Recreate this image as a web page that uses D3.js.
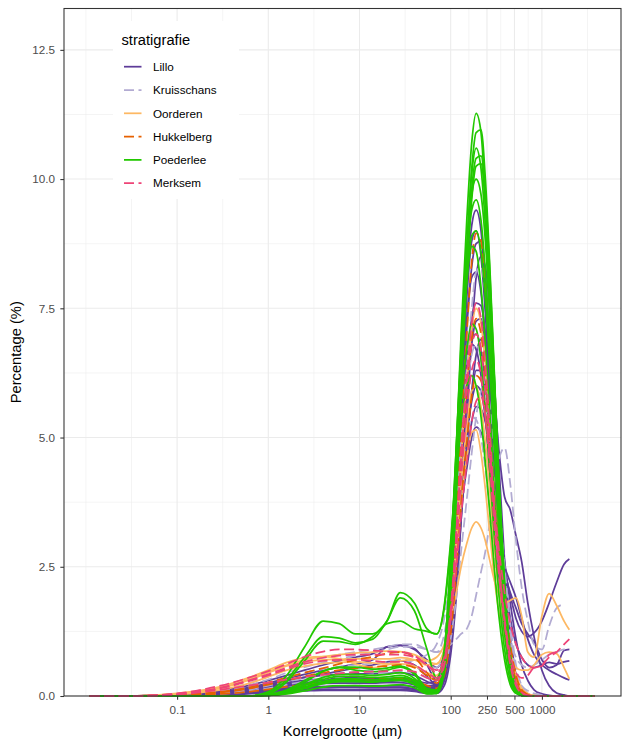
<!DOCTYPE html>
<html><head><meta charset="utf-8">
<script src="https://cdn.jsdelivr.net/npm/d3@7"></script>
<style>body{margin:0;background:#fff}</style>
</head><body><svg id="c" width="630" height="747"></svg>
<script>
// grain size classes (µm)
const sizes = [0.011,0.03,0.1,0.3,0.6,1,1.6,2.5,4,6,
  9,14,20,28,40,55,70,85,100,115,
  130,150,170,190,215,240,270,300,340,390,
  450,520,600,700,820,1000,1200,1450,1750,2000,
  3800];

const lillo = [
 [0,0,0.01,0.04,0.08,0.12,0.15,0.17,0.18,0.19, 0.2,0.2,0.2,0.2,0.18,0.12,0.15,0.6,1.9,3.9, 6.0,8.0,9.1,9.4,9.0,7.9,6.4,4.9,3.2,1.7, 0.7,0.2,0.05,0.01,0,0,0,0,0,0, 0],
 [0,0,0.01,0.05,0.1,0.15,0.19,0.22,0.24,0.25, 0.25,0.25,0.26,0.26,0.22,0.14,0.14,0.45,1.5,3.2, 5.1,7.1,8.3,8.75,8.8,8.1,6.8,5.4,3.7,2.1, 0.9,0.3,0.08,0.02,0,0,0,0,0,0, 0],
 [0,0,0.02,0.06,0.12,0.18,0.24,0.28,0.31,0.32, 0.32,0.31,0.31,0.32,0.27,0.17,0.18,0.6,1.9,3.7, 5.6,7.3,8.1,8.2,7.8,6.9,5.7,4.4,3.0,1.7, 0.75,0.25,0.07,0.02,0.01,0,0,0,0,0, 0],
 [0,0,0.02,0.07,0.14,0.2,0.26,0.3,0.33,0.35, 0.35,0.34,0.34,0.35,0.3,0.2,0.2,0.55,1.6,3.2, 4.8,6.4,7.3,7.6,7.55,7.0,6.0,4.9,3.6,2.4, 1.5,1.0,0.75,0.6,0.55,0.6,0.65,0.62,0.66,0.68, null],
 [0,0,0.02,0.08,0.16,0.25,0.34,0.42,0.5,0.56, 0.62,0.7,0.95,0.98,0.92,0.6,0.3,0.55,1.7,3.3, 4.9,6.2,6.9,7.0,6.7,6.0,5.0,3.9,2.7,1.6, 0.75,0.25,0.06,0.01,0,0,0,0,0,0, 0],
 [0,0,0.01,0.04,0.08,0.12,0.15,0.17,0.18,0.18, 0.18,0.17,0.17,0.17,0.14,0.08,0.08,0.3,1.0,2.1, 3.4,4.8,5.9,6.6,6.9,6.8,6.5,5.8,4.7,3.85, 3.6,3.1,2.6,1.8,1.15,0.5,0.2,0.06,0.02,0, 0],
 [0,0,0.02,0.06,0.12,0.18,0.23,0.27,0.3,0.31, 0.31,0.3,0.3,0.3,0.26,0.18,0.16,0.45,1.3,2.5, 3.6,4.6,5.3,5.6,5.55,5.3,4.8,4.1,3.2,2.45, 1.95,1.5,1.25,1.15,1.22,1.45,1.8,2.2,2.55,2.65, null],
 [0,0,0.02,0.07,0.14,0.22,0.3,0.36,0.4,0.42, 0.43,0.43,0.44,0.45,0.4,0.28,0.22,0.5,1.4,2.7, 3.9,5.0,5.7,6.0,5.9,5.4,4.6,3.8,3.0,2.4, 2.0,1.7,1.4,1.2,1.05,0.7,0.55,0.6,0.88,0.9, null],
 [0,0,0.03,0.1,0.2,0.3,0.4,0.5,0.6,0.68, 0.75,0.82,0.95,0.98,0.9,0.7,0.55,0.8,1.6,2.6, 3.6,4.4,5.0,5.2,5.1,4.8,4.2,3.5,2.9,2.5, 2.2,1.9,1.5,1.1,0.8,0.6,0.5,0.42,0.35,0.31, null],
 [0,0,0.01,0.03,0.06,0.1,0.13,0.15,0.16,0.17, 0.17,0.16,0.16,0.16,0.13,0.07,0.05,0.2,0.8,1.9, 3.4,5.3,7.0,8.1,8.5,8.3,7.4,6.1,4.4,2.6, 1.2,0.4,0.1,0.02,0,0,0,0,0,0, 0],
 [0,0,0.02,0.05,0.1,0.16,0.21,0.25,0.27,0.28, 0.28,0.27,0.28,0.3,0.3,0.25,0.3,0.9,2.3,4.0, 5.5,6.5,6.8,6.7,6.2,5.4,4.3,3.2,2.1,1.2, 0.55,0.2,0.05,0.01,0,0,0,0,0,0, 0],
 [0,0,0.01,0.03,0.06,0.09,0.11,0.12,0.13,0.13, 0.13,0.13,0.13,0.13,0.11,0.07,0.06,0.3,1.1,2.3, 3.6,4.9,5.8,6.3,6.3,5.9,5.2,4.4,3.5,2.6, 1.8,1.1,0.6,0.3,0.12,0.04,0.01,0,0,0, 0],
 [0,0,0,0.02,0.04,0.07,0.09,0.1,0.11,0.11, 0.11,0.11,0.11,0.11,0.09,0.05,0.06,0.4,1.6,3.5, 5.7,7.7,8.8,9.0,8.5,7.4,5.9,4.4,2.9,1.5, 0.6,0.15,0.03,0,0,0,0,0,0,0, 0],
 [0,0,0.02,0.07,0.14,0.22,0.3,0.36,0.42,0.48, 0.54,0.6,0.66,0.68,0.6,0.38,0.22,0.4,1.3,2.7, 4.2,5.7,6.8,7.25,7.3,6.8,5.9,4.8,3.5,2.2, 1.1,0.4,0.1,0.02,0,0,0,0,0,0, 0]
];

const kruisschans = [
 [0,0,0.03,0.1,0.2,0.32,0.45,0.56,0.65,0.72, 0.78,0.84,0.9,0.95,0.95,0.9,0.85,0.9,1.0,1.1, 1.2,1.3,1.55,1.95,2.4,2.8,3.4,4.1,4.6,4.8, 4.1,3.0,2.1,1.45,1.0,0.9,1.35,1.7,1.78,null, null],
 [0,0,0.03,0.12,0.24,0.38,0.52,0.64,0.74,0.8, 0.85,0.9,0.95,1.0,1.0,0.9,0.85,1.2,2.1,3.2, 4.2,5.0,5.4,5.35,5.0,4.4,3.6,2.8,2.0,1.3, 0.75,0.4,0.2,0.1,0.05,0.02,0,0,0,0, 0],
 [0,0,0.02,0.08,0.16,0.26,0.36,0.45,0.52,0.57, 0.6,0.63,0.66,0.7,0.7,0.6,0.55,0.9,1.9,3.2, 4.6,5.9,6.6,6.8,6.5,5.8,4.8,3.7,2.6,1.7, 1.1,0.75,0.6,0.55,0.6,0.7,0.8,0.85,0.9,0.9, null],
 [0,0,0.02,0.06,0.12,0.2,0.28,0.34,0.4,0.44, 0.47,0.5,0.55,0.62,0.7,0.8,1.0,1.5,2.4,3.6, 4.9,6.3,7.5,8.2,8.3,7.8,6.7,5.4,3.9,2.4, 1.2,0.45,0.12,0.03,0,0,0,0,0,0, 0],
 [0,0,0.01,0.04,0.09,0.15,0.22,0.28,0.33,0.37, 0.4,0.42,0.45,0.48,0.45,0.35,0.3,0.5,1.1,1.9, 2.8,3.8,4.7,5.4,5.9,6.0,5.6,4.8,3.7,2.5, 1.4,0.6,0.2,0.05,0.01,0,0,0,0,0, 0]
];

const oorderen = [
 [0,0,0.05,0.18,0.35,0.5,0.65,0.74,0.76,0.72, 0.62,0.55,0.6,0.68,0.7,0.68,0.75,1.0,1.5,2.0, 2.5,2.95,3.25,3.37,3.25,3.0,2.6,2.25,1.95,1.8, 1.85,1.9,1.55,0.85,0.75,1.55,1.98,1.75,1.45,1.28, null],
 [0,0,0.04,0.15,0.3,0.45,0.58,0.66,0.7,0.71, 0.72,0.72,0.72,0.74,0.7,0.6,0.62,0.9,1.6,2.6, 3.7,4.6,5.1,5.15,4.7,4.0,3.1,2.3,1.6,1.1, 0.75,0.55,0.5,0.5,0.6,0.8,0.85,0.82,0.55,0.33, null],
 [0,0,0.03,0.12,0.24,0.37,0.5,0.58,0.63,0.65, 0.66,0.64,0.62,0.62,0.58,0.45,0.4,0.7,1.6,3.0, 4.6,6.1,7.1,7.5,7.2,6.4,5.2,4.0,2.8,1.7, 0.9,0.4,0.15,0.05,0.01,0,0,0,0,0, 0],
 [0,0,0.04,0.16,0.32,0.47,0.6,0.7,0.76,0.8, 0.83,0.85,0.87,0.86,0.8,0.68,0.62,0.9,1.7,2.9, 4.1,5.2,5.9,6.0,5.6,4.9,3.9,2.9,2.0,1.3, 0.7,0.3,0.1,0.02,0,0,0,0,0,0, 0]
];

const hukkelberg = [
 [0,0,0.02,0.08,0.16,0.26,0.36,0.45,0.54,0.62, 0.7,0.76,0.82,0.85,0.75,0.45,0.25,0.5,1.6,3.3, 5.2,7.0,8.4,8.95,8.8,7.9,6.5,5.0,3.4,1.9, 0.8,0.25,0.06,0.01,0,0,0,0,0,0, 0],
 [0,0,0.02,0.07,0.14,0.22,0.3,0.38,0.45,0.5, 0.54,0.56,0.58,0.6,0.55,0.4,0.3,0.6,1.6,3.0, 4.5,5.9,6.9,7.3,7.0,6.2,5.1,3.9,2.7,1.6, 0.8,0.3,0.08,0.02,0,0,0,0,0,0, 0],
 [0,0,0.01,0.04,0.08,0.13,0.18,0.22,0.26,0.29, 0.31,0.32,0.33,0.34,0.3,0.2,0.15,0.4,1.2,2.4, 3.7,4.9,5.8,6.2,6.1,5.6,4.8,3.9,2.9,1.9, 1.0,0.4,0.12,0.03,0,0,0,0,0,0, 0]
];

const poederlee = [
 [0,0,0,0,0,0.01,0.06,0.16,0.26,0.3, 0.3,0.28,0.3,0.32,0.24,0.06,0.08,0.7,2.4,4.7, 7.0,9.2,10.7,11.27,10.9,9.6,7.7,5.8,3.6,1.7, 0.55,0.1,0.01,0,0,0,0,0,0,0, 0],
 [0,0,0,0,0,0.01,0.05,0.14,0.24,0.28, 0.28,0.27,0.29,0.3,0.22,0.05,0.06,0.55,2.0,4.1, 6.3,8.6,10.2,10.9,10.95,10.0,8.2,6.3,4.0,2.0, 0.7,0.15,0.02,0,0,0,0,0,0,0, 0],
 [0,0,0,0,0,0.02,0.08,0.2,0.32,0.38, 0.38,0.36,0.37,0.4,0.3,0.08,0.07,0.6,2.3,4.5, 6.6,8.7,10.1,10.6,10.2,9.1,7.4,5.6,3.6,1.8, 0.6,0.12,0.01,0,0,0,0,0,0,0, 0],
 [0,0,0,0,0,0.01,0.06,0.17,0.28,0.33, 0.33,0.31,0.33,0.36,0.28,0.07,0.05,0.45,1.8,3.8, 5.9,8.1,9.6,10.25,10.3,9.5,7.9,6.2,4.1,2.2, 0.8,0.2,0.03,0,0,0,0,0,0,0, 0],
 [0,0,0,0,0,0.02,0.09,0.22,0.36,0.42, 0.42,0.4,0.42,0.45,0.34,0.1,0.08,0.65,2.4,4.6, 6.6,8.5,9.7,10.0,9.7,8.8,7.3,5.7,3.8,2.0, 0.75,0.15,0.02,0,0,0,0,0,0,0, 0],
 [0,0,0,0,0,0.02,0.1,0.26,0.48,0.55, 0.5,0.47,0.5,0.56,0.42,0.12,0.1,0.7,2.6,4.8, 6.8,8.5,9.4,9.6,9.2,8.2,6.7,5.1,3.3,1.7, 0.6,0.12,0.01,0,0,0,0,0,0,0, 0],
 [0,0,0,0,0,0.03,0.12,0.3,0.48,0.56, 0.56,0.52,0.54,0.58,0.45,0.15,0.12,0.8,2.7,4.8, 6.6,8.1,8.9,9.0,8.6,7.7,6.3,4.8,3.1,1.6, 0.55,0.1,0.01,0,0,0,0,0,0,0, 0],
 [0,0,0,0,0,0.01,0.04,0.1,0.17,0.2, 0.2,0.19,0.2,0.22,0.16,0.04,0.05,0.5,2.0,4.2, 6.0,8.3,9.8,10.4,10.45,9.7,8.1,6.2,4.0,2.1, 0.65,0.12,0.01,0,0,0,0,0,0,0, 0],
 [0,0,0,0,0,0.08,0.4,0.95,1.45,1.4, 1.2,1.2,1.45,2.0,1.8,1.3,1.2,1.75,3.0,4.4, 5.7,6.7,7.2,7.1,6.5,5.5,4.3,3.1,1.9,0.9, 0.3,0.06,0.01,0,0,0,0,0,0,0, 0],
 [0,0,0,0,0,0.05,0.32,0.75,1.15,1.12, 1.03,1.1,1.45,1.9,1.65,0.9,0.35,0.9,2.6,4.6, 6.5,8.0,8.7,8.6,7.9,6.8,5.4,4.0,2.5,1.2, 0.4,0.08,0.01,0,0,0,0,0,0,0, 0],
 [0,0,0,0,0,0.04,0.28,0.68,1.06,1.05, 1.0,1.15,1.4,1.45,1.3,1.25,1.2,1.7,2.9,4.2, 5.3,6.0,6.2,6.0,5.4,4.5,3.5,2.5,1.5,0.7, 0.22,0.05,0.01,0,0,0,0,0,0,0, 0]
];

const merksem = [
 [0,0,0.05,0.2,0.35,0.48,0.62,0.76,0.86,0.9, 0.9,0.88,0.86,0.85,0.78,0.6,0.45,0.7,1.7,3.1, 4.7,6.2,7.2,7.6,7.3,6.4,5.1,3.8,2.5,1.4, 0.6,0.2,0.05,0.01,0,0,0,0,0,0, 0],
 [0,0,0.04,0.16,0.3,0.42,0.55,0.66,0.74,0.78, 0.8,0.8,0.8,0.8,0.75,0.6,0.5,0.75,1.5,2.5, 3.5,4.5,5.3,5.7,5.8,5.4,4.6,3.7,2.8,2.0, 1.4,1.0,0.75,0.6,0.55,0.6,0.75,0.85,1.0,1.1, null],
 [0,0,0.03,0.12,0.2,0.26,0.32,0.37,0.41,0.44, 0.46,0.47,0.48,0.5,0.47,0.35,0.3,0.6,1.6,3.1, 4.6,6.0,6.8,7.0,6.7,5.9,4.8,3.6,2.5,1.5, 0.8,0.45,0.35,0.4,0.55,0.58,0.8,0.85,null,null, null],
 [0,0,0.04,0.15,0.28,0.4,0.52,0.62,0.68,0.7, 0.7,0.68,0.66,0.66,0.6,0.45,0.35,0.6,1.5,2.8, 4.2,5.5,6.3,6.5,6.2,5.4,4.4,3.3,2.3,1.4, 0.7,0.25,0.07,0.01,0,0,0,0,0,0, 0]
];

const strata = ["Lillo","Kruisschans","Oorderen","Hukkelberg","Poederlee","Merksem"];
const strataSeries = [lillo, kruisschans, oorderen, hukkelberg, poederlee, merksem];
const strataColors = ["#5E3C99","#B2ABD2","#FDB863","#E66101","#22C800","#EE4477"];
const strataDash = [null,"10,4.5",null,"10,4.5",null,"10,4.5"];
const xTicks = [0.1,1,10,100,250,500,1000];
const yTicks = [0,2.5,5,7.5,10,12.5];

const svg = d3.select("#c");
const L = 64, R = 621, T = 8.5, B = 696;
const x = d3.scaleLog().domain([0.005754, 7367]).range([L, R]);
const y = d3.scaleLinear().domain([0, 13.30]).range([B, T]);
const font = "'Liberation Sans', Arial, sans-serif";
const LW = 1.75;

svg.append("rect").attr("x",0).attr("y",0).attr("width",630).attr("height",747).attr("fill","#fff");

// minor grid
const lt = xTicks.map(v=>Math.log10(v));
const ext = [lt[0]-(lt[1]-lt[0]), ...lt, lt[lt.length-1]+(lt[1]-lt[0])];
const xMinor = [];
for (let i=0;i<ext.length-1;i++) xMinor.push((ext[i]+ext[i+1])/2);
xMinor.push(ext[0]);
const g = svg.append("g");
xMinor.forEach(l=>{ const px = x(Math.pow(10,l)); if (px>L && px<R)
  g.append("line").attr("x1",px).attr("x2",px).attr("y1",T).attr("y2",B).attr("stroke","#EBEBEB").attr("stroke-width",0.55); });
for (let i=0;i<yTicks.length;i++){ const v = yTicks[i]+1.25; if (y(v)>T)
  g.append("line").attr("x1",L).attr("x2",R).attr("y1",y(v)).attr("y2",y(v)).attr("stroke","#EBEBEB").attr("stroke-width",0.55); }
// major grid
xTicks.forEach(v=> g.append("line").attr("x1",x(v)).attr("x2",x(v)).attr("y1",T).attr("y2",B).attr("stroke","#EBEBEB").attr("stroke-width",1.07));
yTicks.forEach(v=> g.append("line").attr("x1",L).attr("x2",R).attr("y1",y(v)).attr("y2",y(v)).attr("stroke","#EBEBEB").attr("stroke-width",1.07));

// lines
const line = d3.line().defined(d=>d[1]!==null).x(d=>x(d[0])).y(d=>y(d[1])).curve(d3.curveMonotoneX);
const lg = svg.append("g");
strataSeries.forEach((series, si)=>{
  series.forEach(vals=>{
    const pts = sizes.map((s,i)=>[s, vals[i]===undefined?null:vals[i]]);
    lg.append("path").attr("d", line(pts)).attr("fill","none")
      .attr("stroke", strataColors[si]).attr("stroke-width",LW)
      .attr("stroke-dasharray", strataDash[si]);
  });
});

// panel border
svg.append("rect").attr("x",L).attr("y",T).attr("width",R-L).attr("height",B-T)
  .attr("fill","none").attr("stroke","#333333").attr("stroke-width",1.07);

// axes
const xa = svg.append("g").attr("transform",`translate(0,${B})`)
  .call(d3.axisBottom(x).tickValues(xTicks).tickFormat(d=>String(d)).tickSize(3.67).tickPadding(6.5));
const ya = svg.append("g").attr("transform",`translate(${L},0)`)
  .call(d3.axisLeft(y).tickValues(yTicks).tickFormat(d3.format(".1f")).tickSize(3.67).tickPadding(5.3));
[xa, ya].forEach(a=>{
  a.select(".domain").remove();
  a.selectAll(".tick line").attr("stroke","#333333").attr("stroke-width",1.07);
  a.selectAll(".tick text").attr("fill","#4D4D4D").style("font-family",font).style("font-size","11.7px");
});

svg.append("text").attr("x",(L+R)/2).attr("y",735.5).attr("text-anchor","middle")
  .style("font-family",font).style("font-size","14.7px").attr("fill","#000").text("Korrelgrootte (µm)");
svg.append("text").attr("transform",`translate(21,${(T+B)/2}) rotate(-90)`).attr("text-anchor","middle")
  .style("font-family",font).style("font-size","14.7px").attr("fill","#000").text("Percentage (%)");

// legend
const leg = svg.append("g");
leg.append("rect").attr("x",113).attr("y",21).attr("width",126).attr("height",178).attr("fill","#fff");
leg.append("text").attr("x",121.5).attr("y",45).style("font-family",font).style("font-size","14.7px").attr("fill","#000").text("stratigrafie");
strata.forEach((s,i)=>{
  const cy = 66.7 + i*23.3;
  leg.append("line").attr("x1",124).attr("x2",141.5).attr("y1",cy).attr("y2",cy)
    .attr("stroke",strataColors[i]).attr("stroke-width",LW).attr("stroke-dasharray",strataDash[i]);
  leg.append("text").attr("x",153).attr("y",cy).attr("dy","0.36em")
    .style("font-family",font).style("font-size","11.7px").attr("fill","#000").text(s);
});
</script></body></html>
